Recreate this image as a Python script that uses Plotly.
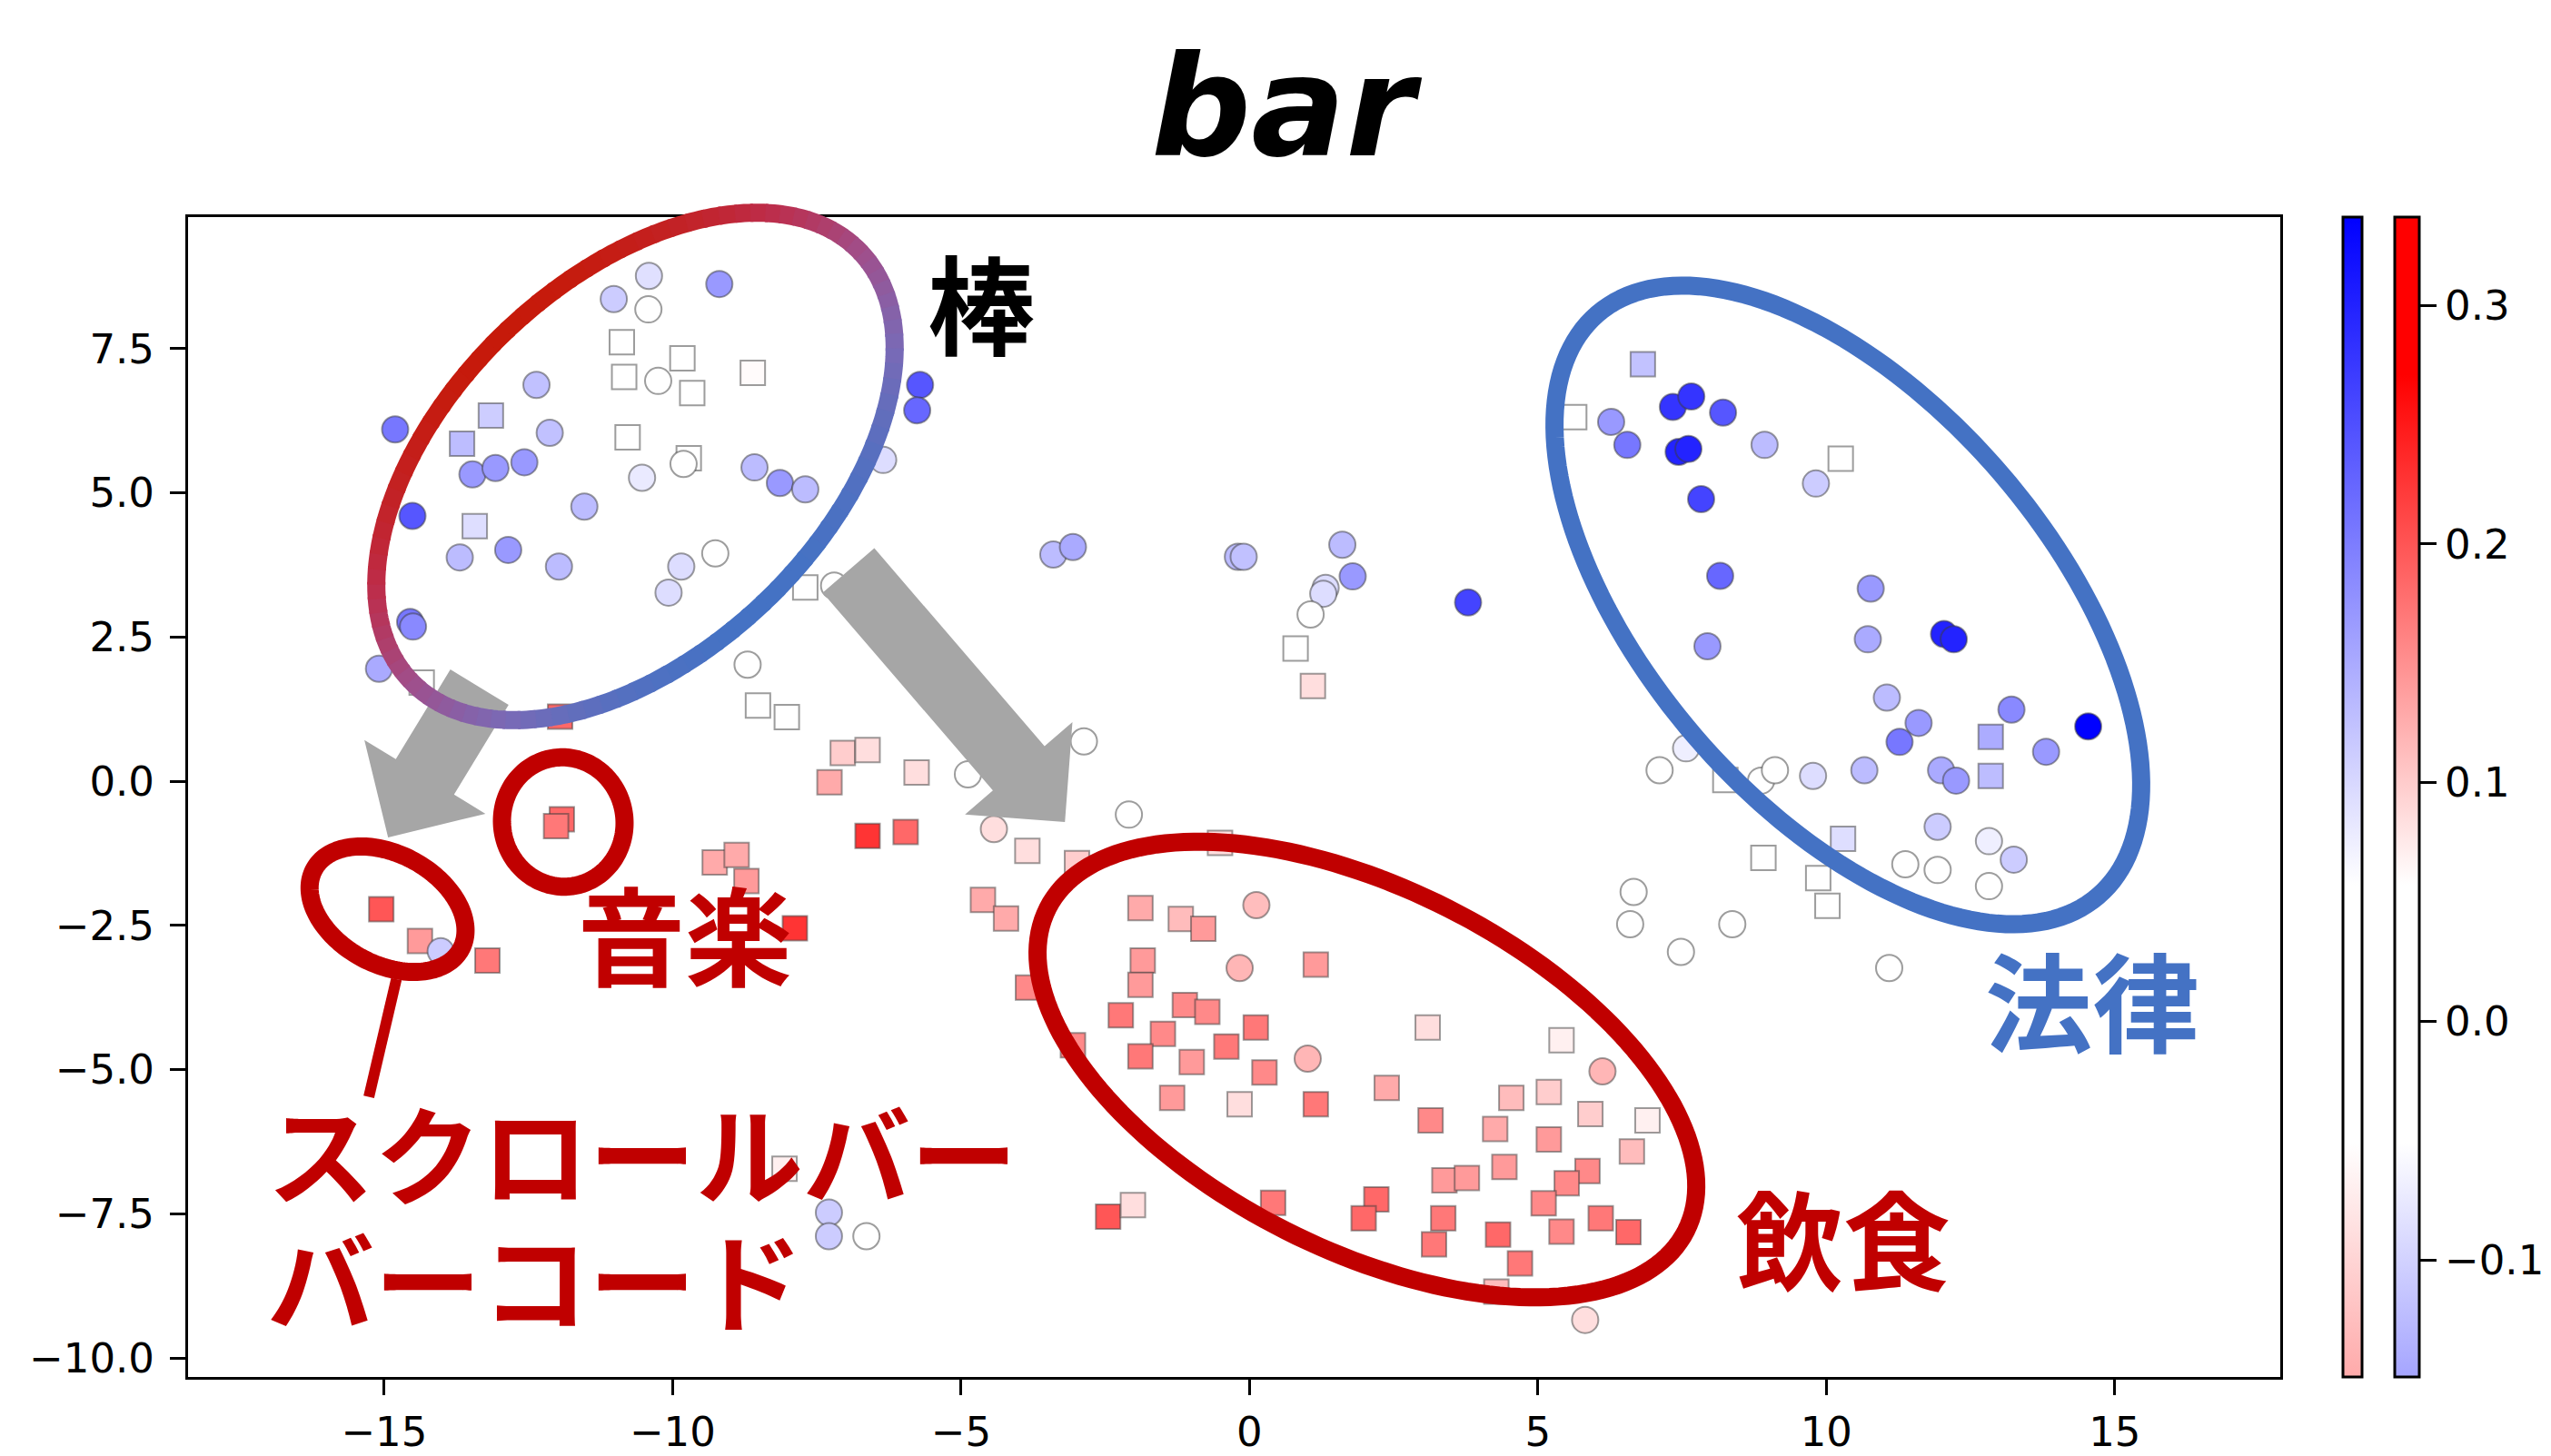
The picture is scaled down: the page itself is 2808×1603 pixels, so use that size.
import numpy as np
import plotly.graph_objects as go

# ---------------- data ----------------
circle_x = [-10.41, -9.19, -11.02, -10.42, -10.25, -12.36, -14.81, -12.13, -13.47, -13.07,
            -12.57, -9.81, -10.53, -8.58, -8.14, -7.70, -14.51, -11.53, -13.69, -12.85,
            -11.97, -9.85, -10.07, -9.26, -14.55, -14.50, -15.09, -5.71, -5.76, -6.35,
            -7.20, -8.70, -4.88, -4.43, -3.40, -3.06, -0.20, -0.10, 1.61, 1.79,
            1.32, 1.28, 1.06, 3.79, -2.87, -2.09, 0.12, 7.57, 6.66, 6.27,
            6.55, 7.34, 7.66, 8.21, 7.44, 7.61, 8.93, 9.82, 7.83, 8.16,
            10.77, 7.94, 10.72, 12.04, 12.21, 11.05, 11.60, 11.27, 13.21, 14.54,
            13.81, 11.99, 12.25, 10.66, 9.77, 8.87, 9.11, 7.11, 11.93, 12.82,
            13.25, 11.37, 11.93, 12.82, 6.60, 8.37, 7.48, 11.09, -14.02, -7.29,
            -7.29, -6.64, -0.17, 1.01, 6.12, 5.82]
circle_y = [8.76, 8.62, 8.36, 8.18, 6.94, 6.87, 6.10, 6.04, 5.32, 5.43,
            5.53, 5.50, 5.26, 5.44, 5.17, 5.06, 4.60, 4.76, 3.88, 4.01,
            3.72, 3.72, 3.27, 3.95, 2.76, 2.68, 1.95, 6.87, 6.43, 5.57,
            3.39, 2.02, 0.12, -0.83, 3.93, 4.06, 3.89, 3.89, 4.10, 3.55,
            3.35, 3.25, 2.89, 3.10, 0.69, -0.58, -2.15, 0.57, -1.92, 6.23,
            5.83, 6.49, 6.67, 6.39, 5.71, 5.76, 5.83, 5.16, 4.89, 3.56,
            3.34, 2.34, 2.46, 2.55, 2.46, 1.45, 1.01, 0.68, 1.24, 0.95,
            0.51, 0.19, 0.01, 0.19, 0.09, 0.01, 0.19, 0.19, -0.79, -1.04,
            -1.36, -1.44, -1.54, -1.82, -2.48, -2.48, -2.96, -3.24, -2.95, -7.48,
            -7.89, -7.89, -3.24, -4.81, -5.03, -9.34]
circle_v = [0.091, 0.169, 0.113, 0.0, 0.0, 0.125, 0.206, 0.125, 0.169, 0.169,
            0.169, 0.0, 0.080, 0.131, 0.169, 0.131, 0.243, 0.131, 0.131, 0.169,
            0.131, 0.094, 0.094, 0.0, 0.206, 0.187, 0.150, 0.243, 0.224, 0.094,
            0.0, 0.0, 0.0, -0.089, 0.131, 0.150, 0.131, 0.125, 0.131, 0.169,
            0.094, 0.094, 0.0, 0.262, 0.0, 0.0, -0.127, 0.075, 0.0, 0.169,
            0.206, 0.280, 0.280, 0.243, 0.299, 0.299, 0.131, 0.113, 0.262, 0.224,
            0.169, 0.169, 0.150, 0.299, 0.299, 0.131, 0.169, 0.206, 0.187, 0.336,
            0.169, 0.150, 0.169, 0.131, 0.094, 0.0, 0.0, 0.0, 0.113, 0.075,
            0.113, 0.0, 0.0, 0.0, 0.0, 0.0, 0.0, 0.0, 0.113, 0.113,
            0.113, 0.0, -0.135, -0.135, -0.135, -0.089]

square_x = [-10.88, -9.83, -10.84, -9.66, -8.61, -13.15, -13.65, -10.78, -9.72, -13.43,
            -14.35, -7.70, -8.52, -8.02, -11.95, -7.05, -6.62, -7.28, -5.77, -11.92,
            -12.02, -6.62, -5.96, 0.80, 1.10, -3.85, -2.99, -0.51, -4.62, -4.22,
            -1.89, -1.19, -0.80, 8.25, 8.91, 6.82, 5.63, 10.25, 12.85, 12.85,
            10.29, 9.86, 10.02, -15.05, -14.38, -13.21, -9.27, -8.89, -8.72, -7.88,
            -3.84, -8.06, -3.06, -1.85, -1.89, 1.15, -2.23, -1.12, -0.73, -1.50,
            0.11, -0.40, -1.89, -1.00, 0.26, -1.34, -0.17, 1.15, 2.38, 3.09,
            3.14, 5.41, 4.54, 5.19, 5.91, 6.90, 4.26, 5.19, 6.63, 3.38,
            3.77, 4.42, 5.86, 5.50, 5.10, 3.36, 3.20, 4.31, 4.69, 5.41,
            6.09, 6.57, 2.20, 1.98, 0.41, -2.45, -2.02, 4.28]
square_y = [7.61, 7.33, 7.01, 6.73, 7.08, 6.34, 5.85, 5.96, 5.60, 4.42,
            1.71, 3.36, 1.31, 1.11, 1.12, 0.49, 0.54, -0.02, 0.15, -0.66,
            -0.78, -0.95, -0.88, 2.30, 1.65, -1.21, -1.42, -1.07, -2.06, -2.38,
            -2.20, -2.39, -2.56, 0.02, -1.33, 7.23, 6.31, 5.59, 0.77, 0.09,
            -1.00, -1.68, -2.16, -2.22, -2.77, -3.11, -1.41, -1.28, -1.73, -2.55,
            -3.58, -6.72, -4.58, -3.11, -3.53, -3.18, -4.06, -3.88, -4.00, -4.38,
            -4.27, -4.60, -4.77, -4.87, -5.05, -5.49, -5.60, -5.60, -5.32, -4.27,
            -5.88, -4.49, -5.49, -5.39, -5.77, -5.88, -6.03, -6.21, -6.42, -6.92,
            -6.88, -6.69, -6.76, -6.97, -7.32, -7.58, -8.03, -7.86, -8.36, -7.81,
            -7.58, -7.82, -7.25, -7.58, -7.31, -7.55, -7.35, -8.85]
square_v = [0.0, 0.0, 0.0, 0.0, 0.060, -0.105, -0.123, 0.0, 0.0, -0.087,
            0.0, 0.0, 0.0, 0.0, 0.184, 0.099, 0.085, 0.128, 0.085, 0.184,
            0.170, 0.227, 0.184, 0.0, 0.085, 0.085, 0.099, 0.085, 0.128, 0.128,
            0.128, 0.113, 0.142, 0.0, 0.0, -0.117, 0.0, 0.0, -0.141, -0.123,
            -0.087, 0.0, 0.0, 0.199, 0.142, 0.170, 0.128, 0.128, 0.142, 0.227,
            0.156, 0.070, 0.156, 0.142, 0.142, 0.142, 0.170, 0.156, 0.156, 0.156,
            0.170, 0.170, 0.170, 0.142, 0.156, 0.142, 0.085, 0.170, 0.128, 0.085,
            0.156, 0.070, 0.113, 0.099, 0.099, 0.070, 0.128, 0.142, 0.113, 0.142,
            0.142, 0.142, 0.156, 0.156, 0.156, 0.170, 0.170, 0.184, 0.170, 0.156,
            0.170, 0.184, 0.184, 0.184, 0.170, 0.199, 0.085, 0.113]

x_tick_vals = [-15, -10, -5, 0, 5, 10, 15]
x_tick_text = ["\u221215", "\u221210", "\u22125", "0", "5", "10", "15"]
y_tick_vals = [-10, -7.5, -5, -2.5, 0, 2.5, 5, 7.5]
y_tick_text = ["\u221210.0", "\u22127.5", "\u22125.0", "\u22122.5", "0.0", "2.5", "5.0", "7.5"]
cbar_tick_vals = [-0.1, 0.0, 0.1, 0.2, 0.3]
cbar_tick_text = ["\u22120.1", "0.0", "0.1", "0.2", "0.3"]
c_min, c_max = -0.149, 0.337

title_text = "bar"
labels = {"bou": "棒", "hou": "法律", "ongaku": "音楽", "inshoku": "飲食",
          "scroll": "スクロールバー", "barcode": "バーコード"}

# ---------------- layout geometry (page pixels) ----------------
PAGE_W, PAGE_H = 2808, 1603
BODY = 8                       # default body margin of the html page
W, H = PAGE_W - BODY, PAGE_H - BODY
L, R, T, B = 207, 2510, 239, 1516   # plot area in page pixels


def to_paper(X, Y):
    return (X - L) / (R - L), (B - Y) / (B - T)


def cnorm(v):
    return (v - c_min) / (c_max - c_min)


circle_scale = [[0.0, "rgb(255,170,170)"], [cnorm(-0.051), "rgb(255,255,255)"],
                [cnorm(0.057), "rgb(255,255,255)"], [1.0, "rgb(0,0,255)"]]
square_scale = [[0.0, "rgb(165,165,255)"], [cnorm(-0.051), "rgb(255,255,255)"],
                [cnorm(0.057), "rgb(255,255,255)"], [cnorm(0.271), "rgb(255,0,0)"],
                [1.0, "rgb(255,0,0)"]]

tick_font = dict(family="DejaVu Sans", size=45, color="black")
edge = dict(color="rgba(60,60,60,0.5)", width=2)

fig = go.Figure()
fig.add_trace(go.Scatter(
    x=square_x, y=square_y, mode="markers", showlegend=False,
    marker=dict(symbol="square", size=27, color=square_v, colorscale=square_scale,
                cmin=c_min, cmax=c_max, line=edge,
                colorbar=dict(x=(2636 - L) / (R - L), xanchor="left", xpad=0, ypad=0,
                              y=0.5, yanchor="middle",
                              len=1, thickness=27, outlinewidth=3, outlinecolor="black",
                              tickvals=cbar_tick_vals, ticktext=cbar_tick_text,
                              ticks="outside", ticklen=18, tickwidth=2.5, tickcolor="black",
                              tickfont=tick_font))))
fig.add_trace(go.Scatter(
    x=circle_x, y=circle_y, mode="markers", showlegend=False,
    marker=dict(symbol="circle", size=29, color=circle_v, colorscale=circle_scale,
                cmin=c_min, cmax=c_max, line=edge,
                colorbar=dict(x=(2579 - L) / (R - L), xanchor="left", xpad=0, ypad=0,
                              y=0.5, yanchor="middle",
                              len=1, thickness=21, outlinewidth=3, outlinecolor="black",
                              showticklabels=False, ticks=""))))

shapes = []


def ell_xy(cx, cy, a, b, phi_deg, t):
    p = np.radians(phi_deg)
    ux, uy = np.cos(p), np.sin(p)
    vx, vy = -np.sin(p), np.cos(p)
    X = cx + a * np.cos(t) * ux + b * np.sin(t) * vx
    Y = cy + a * np.cos(t) * uy + b * np.sin(t) * vy
    return X, Y


def path_str(X, Y, close=False):
    pts = [to_paper(x, y) for x, y in zip(X, Y)]
    s = "M " + " L ".join(f"{px:.5f},{py:.5f}" for px, py in pts)
    return s + (" Z" if close else "")


def add_ellipse(cx, cy, a, b, phi, color, width=20):
    t = np.linspace(0, 2 * np.pi, 181)
    X, Y = ell_xy(cx, cy, a, b, phi, t)
    shapes.append(dict(type="path", xref="paper", yref="paper", layer="above",
                       path=path_str(X, Y, True), line=dict(color=color, width=width)))


def mix(stops, f):
    for (f0, c0), (f1, c1) in zip(stops[:-1], stops[1:]):
        if f <= f1:
            u = (f - f0) / (f1 - f0) if f1 > f0 else 0
            return "rgb(%d,%d,%d)" % tuple(int(round(c0[i] + (c1[i] - c0[i]) * u)) for i in range(3))
    c = stops[-1][1]
    return "rgb(%d,%d,%d)" % c


grad_stops = [(0.0, (198, 26, 10)), (0.25, (190, 44, 72)), (0.5, (160, 78, 138)),
              (0.75, (122, 106, 182)), (1.0, (68, 114, 196))]


def add_gradient_ellipse(cx, cy, a, b, phi, width=20, n=96):
    edges = np.linspace(0, 2 * np.pi, n + 1)
    for i in range(n):
        t = np.linspace(edges[i], edges[i + 1] + 0.012, 5)
        X, Y = ell_xy(cx, cy, a, b, phi, t)
        tm = 0.5 * (edges[i] + edges[i + 1])
        f = (np.sin(tm) + 1) / 2
        shapes.append(dict(type="path", xref="paper", yref="paper", layer="above",
                           path=path_str(X, Y), line=dict(color=mix(grad_stops, f), width=width)))


def add_arrow(tail, tip, shaft_w=75, head_w=156, head_len=78, color="#a6a6a6"):
    Tp, Pp = np.array(tail, float), np.array(tip, float)
    d = (Pp - Tp) / np.linalg.norm(Pp - Tp)
    nrm = np.array([-d[1], d[0]])
    Bc = Pp - d * head_len
    pts = [Tp + nrm * shaft_w / 2, Bc + nrm * shaft_w / 2, Bc + nrm * head_w / 2, Pp,
           Bc - nrm * head_w / 2, Bc - nrm * shaft_w / 2, Tp - nrm * shaft_w / 2]
    X = [p[0] for p in pts]
    Y = [p[1] for p in pts]
    shapes.append(dict(type="path", xref="paper", yref="paper", layer="above",
                       path=path_str(X, Y, True), fillcolor=color, line=dict(width=0)))


# annotation graphics
add_arrow((527.8, 756.6), (427.2, 922))
add_arrow((934, 628), (1172.2, 905))
add_gradient_ellipse(699.5, 513.5, 342, 206, -43.7)
add_ellipse(2034, 666, 422.6, 222, 49.3, "#4472c4")
add_ellipse(1504.6, 1177.5, 393.6, 198.6, 26.8, "#c00000")
add_ellipse(620, 905, 71.3, 67.4, 82, "#c00000")
add_ellipse(426.6, 1001, 92, 60.6, 28.6, "#c00000")
shapes.append(dict(type="path", xref="paper", yref="paper", layer="above",
                   path=path_str([436.3, 406], [1078, 1207.7]),
                   line=dict(color="#c00000", width=12)))

annotations = []


def add_label(text, X, Y, color, size=118, xanchor="center"):
    px, py = to_paper(X, Y)
    annotations.append(dict(text="<b>" + text + "</b>", x=px, y=py, xref="paper", yref="paper",
                            xanchor=xanchor, yanchor="middle", showarrow=False,
                            font=dict(family="Noto Sans CJK JP", size=size, color=color)))


add_label(labels["bou"], 1080, 330, "black")
add_label(labels["hou"], 2303, 1098, "#4472c4")
add_label(labels["ongaku"], 754, 1025, "#c00000")
add_label(labels["inshoku"], 2029, 1360, "#c00000")
add_label(labels["scroll"], 292, 1266, "#c00000", xanchor="left")
add_label(labels["barcode"], 292, 1405, "#c00000", xanchor="left")

tx, ty = to_paper(1416, 118)
annotations.append(dict(text="<b><i>" + title_text + "</i></b>", x=tx, y=ty, xref="paper",
                        yref="paper", xanchor="center", yanchor="middle", showarrow=False,
                        font=dict(family="DejaVu Sans", size=154, color="black")))

axis_common = dict(showgrid=False, zeroline=False, showline=True, linecolor="black",
                   linewidth=3, mirror=True, ticks="outside", ticklen=17, tickwidth=2.5,
                   tickcolor="black", tickfont=tick_font, automargin=False)

fig.update_layout(
    width=W, height=H, autosize=False,
    margin=dict(l=L - BODY, r=PAGE_W - R, t=T - BODY, b=PAGE_H - B, pad=0, autoexpand=False),
    paper_bgcolor="white", plot_bgcolor="white",
    xaxis=dict(range=[-18.40, 17.87], tickvals=x_tick_vals, ticktext=x_tick_text,
               ticklabelstandoff=2, **axis_common),
    yaxis=dict(range=[-10.33, 9.78], tickvals=y_tick_vals, ticktext=y_tick_text,
               ticklabelstandoff=8, **axis_common),
    shapes=shapes, annotations=annotations,
)

fig.write_html("out.html")
